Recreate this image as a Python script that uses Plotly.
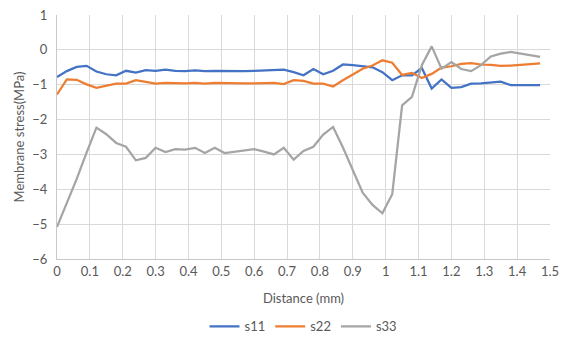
import plotly.graph_objects as go

# Distance along the section (mm), sampled every 0.03 mm
distance = [round(i * 0.03, 2) for i in range(50)]

s11 = [-0.78, -0.61, -0.49, -0.46, -0.62, -0.70, -0.73, -0.60, -0.65, -0.58,
       -0.60, -0.57, -0.60, -0.61, -0.59, -0.61, -0.60, -0.61, -0.61, -0.61,
       -0.60, -0.59, -0.59, -0.57, -0.64, -0.73, -0.55, -0.70, -0.60, -0.42,
       -0.44, -0.46, -0.50, -0.64, -0.87, -0.73, -0.73, -0.52, -1.11, -0.85,
       -1.09, -1.07, -0.97, -0.96, -0.94, -0.91, -1.01, -1.01, -1.01, -1.01]

s22 = [-1.28, -0.85, -0.86, -0.99, -1.09, -1.02, -0.97, -0.97, -0.87, -0.92,
       -0.97, -0.95, -0.96, -0.96, -0.95, -0.97, -0.95, -0.96, -0.96, -0.96,
       -0.96, -0.96, -0.95, -0.98, -0.87, -0.89, -0.97, -0.97, -1.05, -0.87,
       -0.71, -0.54, -0.45, -0.30, -0.37, -0.72, -0.66, -0.81, -0.69, -0.51,
       -0.47, -0.40, -0.38, -0.42, -0.43, -0.46, -0.45, -0.43, -0.41, -0.39]

s33 = [-5.08, -4.40, -3.70, -2.95, -2.23, -2.42, -2.67, -2.78, -3.17, -3.10,
       -2.81, -2.93, -2.85, -2.86, -2.81, -2.96, -2.81, -2.96, -2.93, -2.89,
       -2.85, -2.92, -3.00, -2.81, -3.15, -2.90, -2.78, -2.43, -2.21, -2.80,
       -3.45, -4.10, -4.45, -4.69, -4.14, -1.59, -1.35, -0.44, 0.10, -0.54,
       -0.35, -0.55, -0.61, -0.44, -0.19, -0.11, -0.06, -0.11, -0.17, -0.20]

series = [("s11", s11, "#4472C4"), ("s22", s22, "#ED7D31"), ("s33", s33, "#A5A5A5")]

fig = go.Figure()
for name, vals, color in series:
    fig.add_trace(go.Scatter(x=distance, y=vals, mode="lines", name=name,
                             line=dict(color=color, width=2.25)))

tick_font = dict(family="Lato, 'Open Sans', sans-serif", size=13, color="#595959")

fig.update_layout(
    width=566, height=347,
    margin=dict(l=57, r=16, t=15, b=88, autoexpand=False),
    paper_bgcolor="white", plot_bgcolor="white",
    font=tick_font,
    showlegend=True,
    legend=dict(orientation="h", x=0.5, xanchor="center", y=-0.215, yanchor="top",
                font=dict(size=13, color="#595959"), itemwidth=30),
    xaxis=dict(range=[0, 1.5], dtick=0.1, tick0=0, showgrid=True, gridcolor="#D9D9D9",
               gridwidth=1, zeroline=False, showline=True, linecolor="#C8C8C8",
               mirror=False, ticks="", tickfont=tick_font,
               title=dict(text="Distance (mm)", font=tick_font, standoff=16)),
    yaxis=dict(range=[-6, 1], dtick=1, showgrid=True, gridcolor="#D9D9D9",
               gridwidth=1, zeroline=False, showline=True, linecolor="#C8C8C8",
               ticks="", tickfont=tick_font, ticklabelstandoff=6,
               title=dict(text="Membrane stress(MPa)", font=tick_font, standoff=4)),
)

fig.write_html("out.html")
